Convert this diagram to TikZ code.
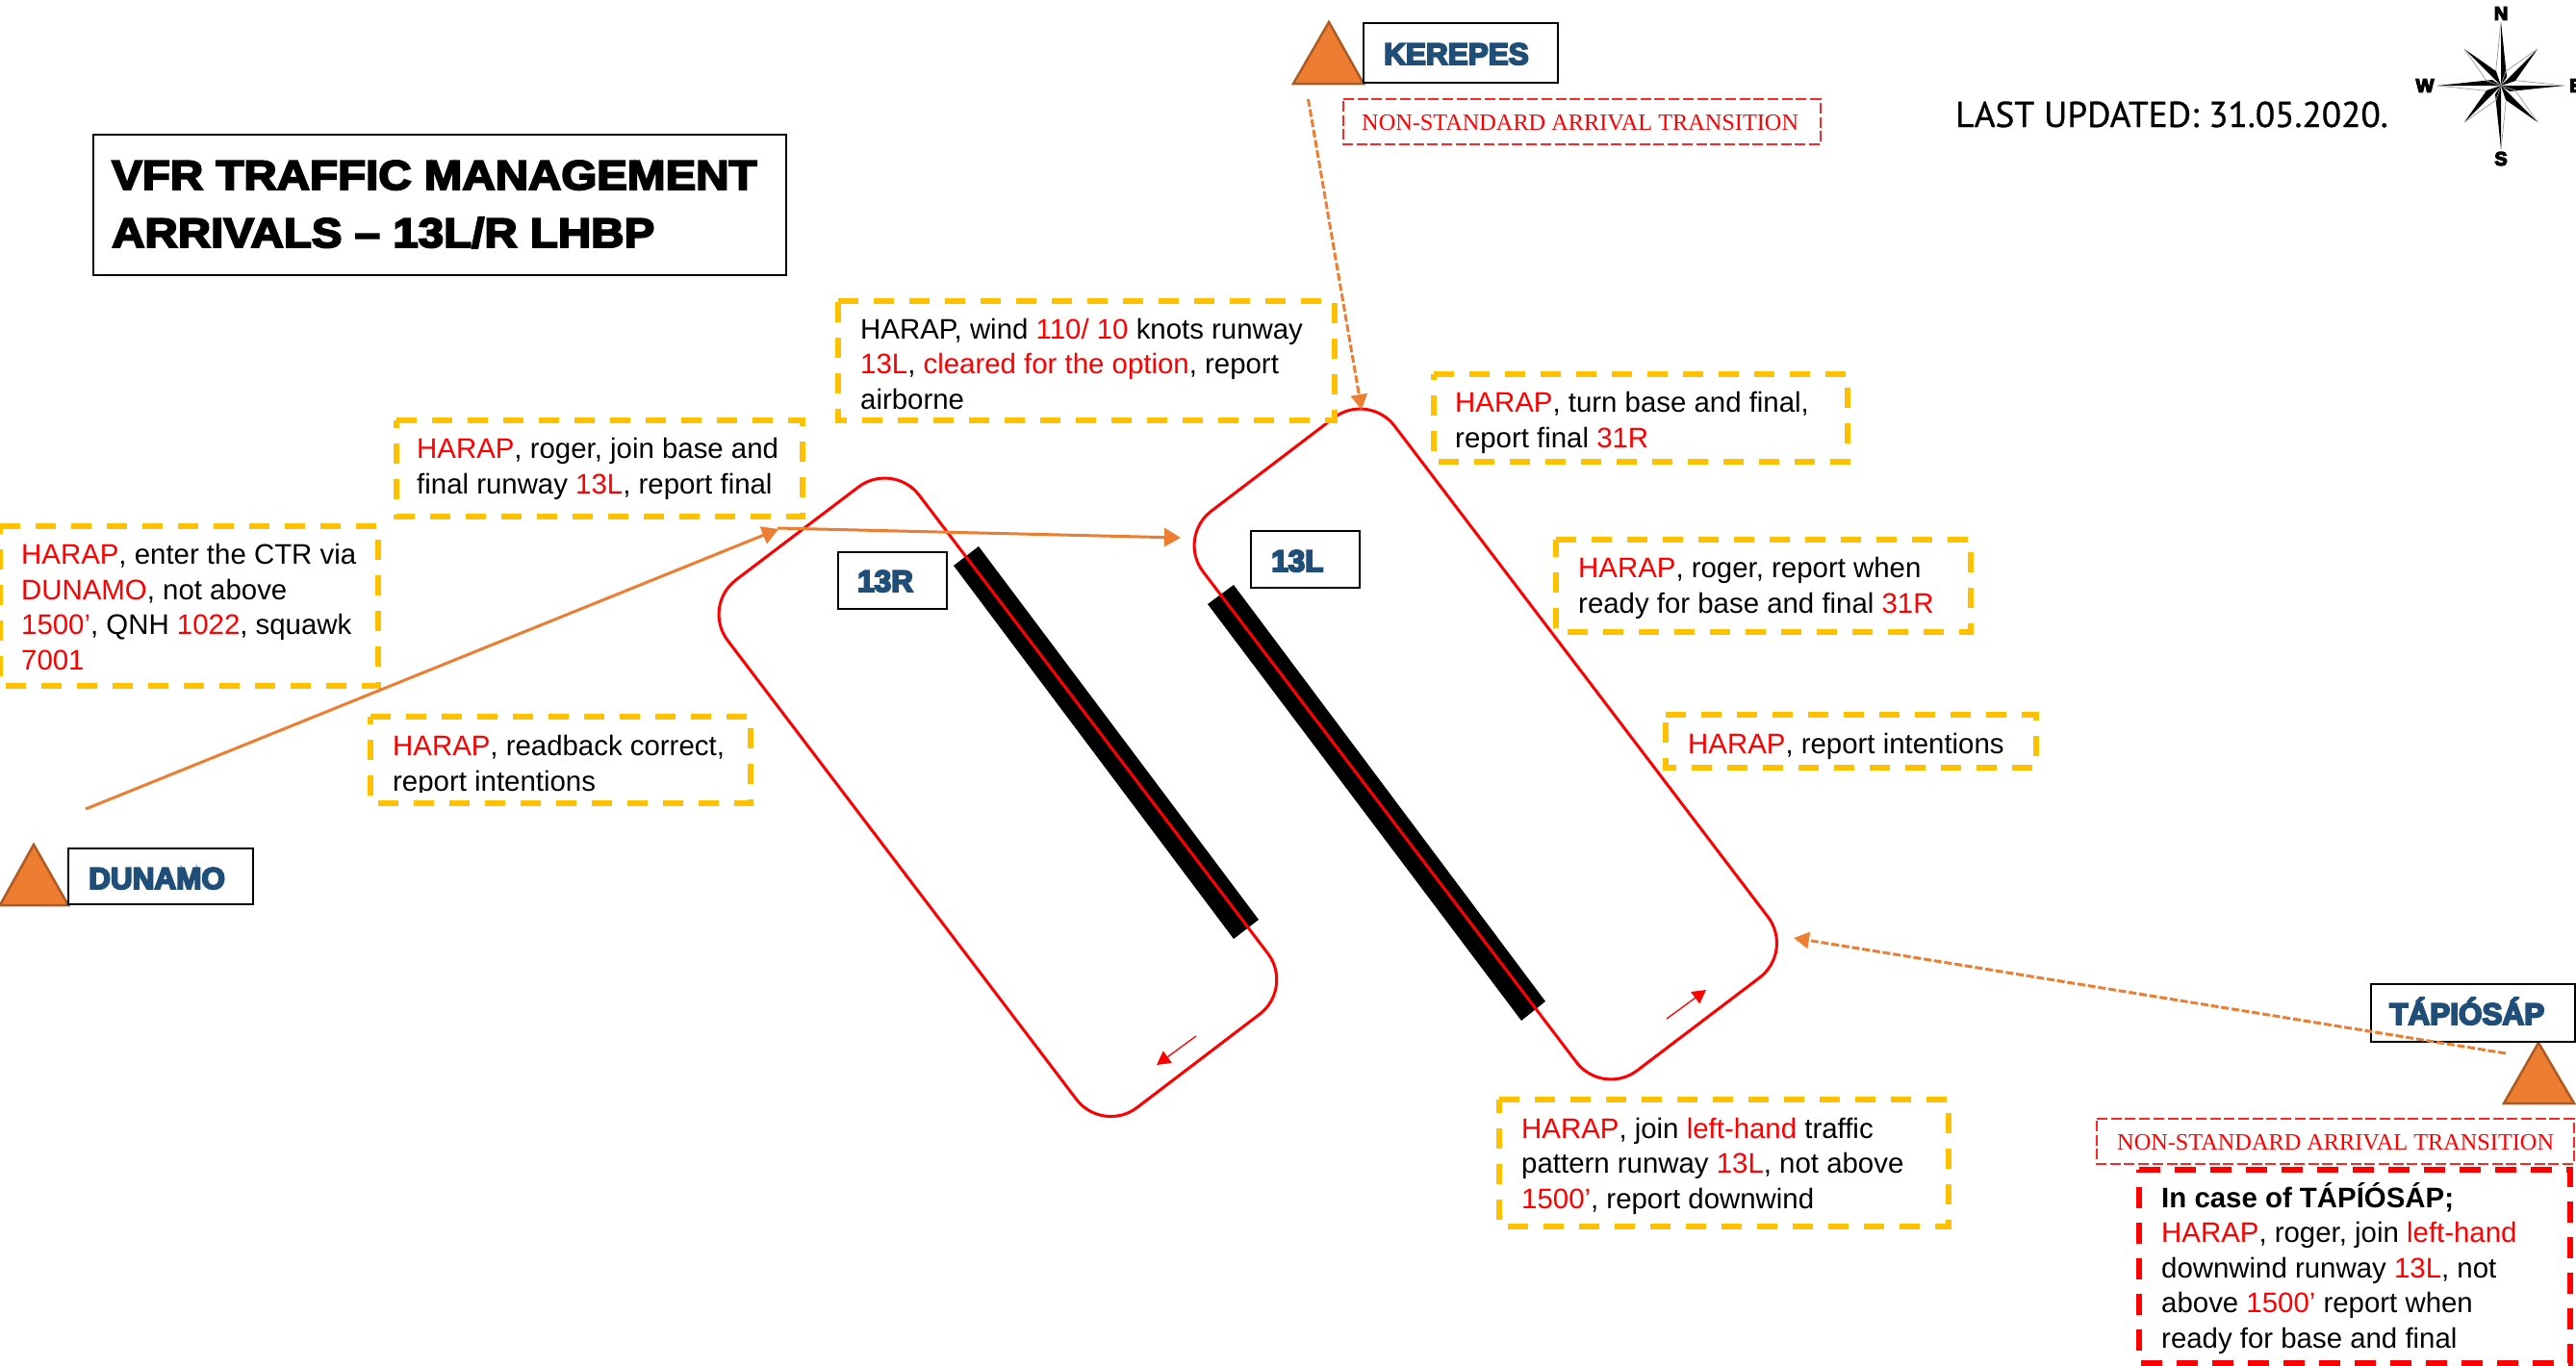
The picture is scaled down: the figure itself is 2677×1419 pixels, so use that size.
\documentclass[tikz,border=0pt]{standalone}
\usepackage{fontspec}
\setmainfont{Liberation Sans}
\newfontface\labfont{Liberation Sans Bold}[FakeBold=6]
\newfontface\titlefont{Liberation Sans Bold}[FakeBold=4.5,FakeStretch=1.105]
\newfontfamily\serifnst{Liberation Serif}
\newfontface\datefont{PT Sans}[FakeBold=0.8]
\usetikzlibrary{arrows.meta}
\definecolor{ry}{HTML}{FFC000}
\definecolor{rorange}{HTML}{ED7D31}
\definecolor{rtri}{HTML}{AE5A21}
\definecolor{rblue}{HTML}{1F4E79}
\newcommand{\rr}[1]{\textcolor{red}{#1}}
\tikzset{
  msgtext/.style={anchor=base west,align=left,inner sep=0pt,font=\fontsize{29.4}{36.5}\selectfont},
  ydash/.style={draw=ry,line width=5.5pt,dash pattern=on 21pt off 16pt},
  rdash/.style={draw=red,line width=6.5pt,dash pattern=on 22pt off 15pt},
  nstdash/.style={draw=red!85,line width=1.5pt,dash pattern=on 11pt off 3.7pt},
  fixbox/.style={draw=black,line width=1.6pt,fill=white,rectangle,inner sep=0pt},
  triangleshape/.style={fill=rorange,draw=rtri,line width=2.5pt,line join=miter},
  labeltext/.style={font=\fontsize{31.5}{36}\labfont,text=rblue,inner sep=0pt,anchor=base west},
  nsttext/.style={font=\fontsize{24.3}{30}\serifnst,text=red,inner sep=0pt,anchor=base west},
  solidarrow/.style={draw=rorange,line width=3pt,-{Triangle[length=17pt,width=19pt]}},
  dasharrow/.style={draw=rorange,line width=3pt,dash pattern=on 8pt off 2.8pt,-{Triangle[length=16pt,width=17pt]}},
  loopline/.style={draw=red,line width=3pt,rounded corners=45pt},
  barfill/.style={fill=black},
  smallarrow/.style={draw=red,line width=1.3pt,-{Triangle[length=14pt,width=15pt]}},
  compasslet/.style={font=\fontsize{20}{20}\labfont,text=black,inner sep=0pt},
}
% #1 name, #2 x1, #3 y1, #4 x2, #5 y2, #6 style, #7 text x, #8 last baseline y, #9 text
\newcommand{\msgbox}[9]{%
  \coordinate (#1-nw) at (#2,#3);
  \coordinate (#1-ne) at (#4,#3);
  \coordinate (#1-se) at (#4,#5);
  \coordinate (#1-sw) at (#2,#5);
  \draw[#6] (#1-nw) -- (#1-ne) -- (#1-se) -- (#1-sw) -- cycle;
  \node[msgtext] (#1) at (#7,#8) {#9};
}
\newcommand{\waypoint}[6]{% name, left, right, apex x, apex y, base y
  \fill[triangleshape] (#2,#6) -- (#4,#5) -- (#3,#6) -- cycle;
  \coordinate (#1-tri) at (#4,#5);
}
\begin{document}
\begin{tikzpicture}[x=1pt,y=-1pt]
\useasboundingbox (0,0) rectangle (2677,1419);

% runway bars
\fill[barfill] (1017,568) -- (1308,956) -- (1282,976) -- (991,588) -- cycle;
\fill[barfill] (1282,608) -- (1606,1041) -- (1581,1061) -- (1255,628) -- cycle;

% traffic patterns
\draw[loopline] (729,630) -- (928,479) -- (1344.8,1027) -- (1145.8,1178.6) -- cycle;
\draw[loopline] (1223,558.5) -- (1422,407) -- (1864.5,989) -- (1665.5,1140) -- cycle;

% direction arrows in the patterns
\coordinate (ra) at (1243,1077); \coordinate (rb) at (1202,1107);
\coordinate (la) at (1732,1059); \coordinate (lb) at (1773,1029);
\draw[smallarrow] (ra) -- (rb);
\draw[smallarrow] (la) -- (lb);

% title
\node[fixbox,minimum width=720pt,minimum height=146pt,anchor=north west] (title) at (96,139) {};
\node[anchor=base west,align=left,inner sep=0pt,font=\fontsize{43}{60}\titlefont] (titletext) at (116,257) {VFR TRAFFIC MANAGEMENT\\ARRIVALS – 13L/R LHBP};

% date
\node[anchor=base west,inner sep=0pt,font=\fontsize{37.3}{40}\datefont] (date) at (2032,132) {LAST UPDATED: 31.05.2020.};

% compass
\coordinate (cc) at (2599,89);
\foreach \ang in {0,90,180,270}{
  \begin{scope}[shift={(cc)},rotate=\ang]
    \fill[black] (0,0) -- (66,0) -- (9,6) -- cycle;
    \draw[black!40,line width=.7pt] (0,0) -- (9,-6) -- (66,0);
  \end{scope}
}
\foreach \ang in {45,135,225,315}{
  \begin{scope}[shift={(cc)},rotate=\ang]
    \fill[black] (0,0) -- (54,0) -- (14,7) -- cycle;
    \draw[black!40,line width=.7pt] (0,0) -- (14,-7) -- (54,0);
  \end{scope}
}
\node[compasslet] (cn) at (2599,14) {N};
\node[compasslet] (cs) at (2599,165) {S};
\node[compasslet] (cw) at (2520,89) {W};
\node[compasslet] (ce) at (2677,89) {E};

% waypoints
\waypoint{ker}{1344}{1417}{1381}{23}{87}
\node[fixbox,minimum width=202pt,minimum height=62pt,anchor=north west] (kerbox) at (1416,23) {};
\node[labeltext] (kertext) at (1438,67) {KEREPES};

\waypoint{dun}{0}{71}{35}{878}{941}
\node[fixbox,minimum width=192pt,minimum height=58pt,anchor=north west] (dunbox) at (70,881) {};
\node[labeltext] (duntext) at (92,924) {DUNAMO};

\waypoint{tap}{2602}{2675}{2638}{1084}{1147}
\node[fixbox,minimum width=212pt,minimum height=60pt,anchor=north west] (tapbox) at (2463,1022) {};
\node[labeltext] (taptext) at (2483,1065) {TÁPIÓSÁP};

% runway labels
\node[fixbox,minimum width=113pt,minimum height=59pt,anchor=north west] (rbox) at (870,573) {};
\node[labeltext] (rtext) at (891,615) {13R};
\node[fixbox,minimum width=113pt,minimum height=59pt,anchor=north west] (lbox) at (1299,551) {};
\node[labeltext] (ltext) at (1321,594) {13L};

% non-standard labels
\coordinate (n1-nw) at (1396,103); \coordinate (n1-ne) at (1892,103);
\coordinate (n1-se) at (1892,150); \coordinate (n1-sw) at (1396,150);
\draw[nstdash] (n1-nw) -- (n1-ne) -- (n1-se) -- (n1-sw) -- cycle;
\node[nsttext] (n1) at (1415,135) {NON-STANDARD ARRIVAL TRANSITION};
\coordinate (n2-nw) at (2179,1163); \coordinate (n2-ne) at (2675,1163);
\coordinate (n2-se) at (2675,1210); \coordinate (n2-sw) at (2179,1210);
\draw[nstdash] (n2-nw) -- (n2-ne) -- (n2-se) -- (n2-sw) -- cycle;
\node[nsttext] (n2) at (2200,1195) {NON-STANDARD ARRIVAL TRANSITION};

% message boxes
\msgbox{ctr}{0}{547}{393}{713}{ydash}{22}{696}{\rr{HARAP}, enter the CTR via\\\rr{DUNAMO}, not above\\\rr{1500’}, QNH \rr{1022}, squawk\\\rr{7001}}
\msgbox{readb}{385}{745}{780}{835}{ydash}{408}{822}{\rr{HARAP}, readback correct,\\report intentions}
\fill[white] (404,824) rectangle (640,832);
\msgbox{joinb}{412}{437}{834}{537}{ydash}{433}{513}{\rr{HARAP}, roger, join base and\\final runway \rr{13L}, report final}
\msgbox{wind}{871}{313}{1387}{437}{ydash}{894}{425}{HARAP, wind \rr{110/ 10} knots runway\\\rr{13L}, \rr{cleared for the option}, report\\airborne}
\msgbox{turn}{1490}{389}{1920}{480}{ydash}{1512}{465}{\rr{HARAP}, turn base and final,\\report final \rr{31R}}
\msgbox{rog}{1617}{561}{2048}{657}{ydash}{1640}{637}{\rr{HARAP}, roger, report when\\ready for base and final \rr{31R}}
\msgbox{rint}{1731}{743}{2116}{798}{ydash}{1754}{783}{\rr{HARAP}, report intentions}
\msgbox{joinl}{1558}{1143}{2025}{1275}{ydash}{1581}{1256}{\rr{HARAP}, join \rr{left-hand} traffic\\pattern runway \rr{13L}, not above\\\rr{1500’}, report downwind}
\msgbox{tcase}{2223}{1216}{2671}{1417}{rdash}{2246}{1401}{\textbf{In case of TÁPÍÓSÁP;}\\\rr{HARAP}, roger, join \rr{left-hand}\\downwind runway \rr{13L}, not\\above \rr{1500’} report when\\ready for base and final}

% connectors
\coordinate (dstart) at (89,841);
\coordinate (dmid) at (809,550);
\coordinate (jstart) at (808,549);
\coordinate (jend) at (1227,559);
\coordinate (kstart) at (1359.5,103);
\coordinate (kend) at (1415,426);
\coordinate (tstart) at (2604,1095);
\coordinate (tend) at (1864,975);
\draw[solidarrow] (dstart) -- (dmid);
\draw[solidarrow] (jstart) -- (jend);
\draw[dasharrow] (kstart) -- (kend);
\draw[dasharrow] (tstart) -- (tend);
\end{tikzpicture}
\end{document}
